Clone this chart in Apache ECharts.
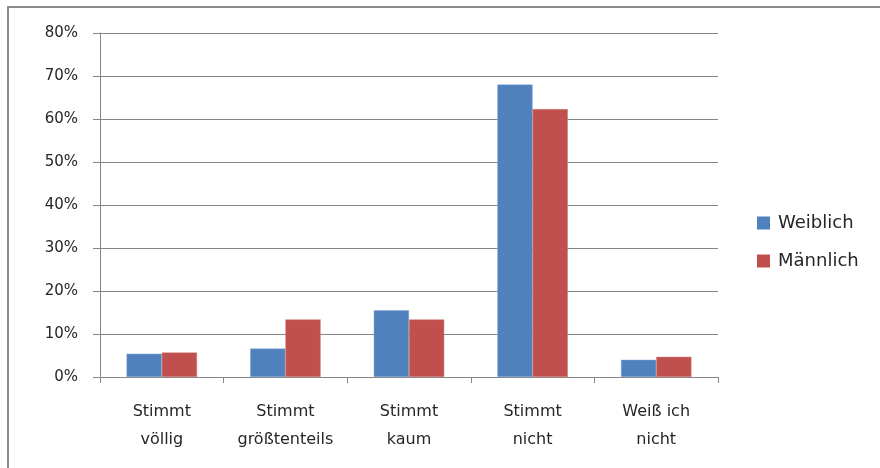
<!DOCTYPE html>
<html>
<head>
<meta charset="utf-8">
<script src="https://cdn.jsdelivr.net/npm/echarts@6/dist/echarts.min.js"></script>
<style>html,body{margin:0;padding:0;background:#fff}#c{width:880px;height:468px}</style>
</head>
<body>
<div id="c"></div>
<script>
var categories = ["Stimmt\nvöllig", "Stimmt\ngrößtenteils", "Stimmt\nkaum", "Stimmt\nnicht", "Weiß ich\nnicht"];
var weiblich = [5.4, 6.6, 15.5, 68.0, 4.0];
var maennlich = [5.7, 13.4, 13.4, 62.3, 4.7];
var seriesNames = ["Weiblich", "Männlich"];
var yTicks = [0, 10, 20, 30, 40, 50, 60, 70, 80];

var chart = echarts.init(document.getElementById('c'), null, {renderer: 'canvas'});
var font = 'DejaVu Sans';
chart.setOption({
  animation: false,
  backgroundColor: '#fff',
  graphic: [{
    type: 'rect', silent: true,
    shape: {x: 8, y: 7, width: 900, height: 500},
    style: {fill: 'none', stroke: '#8c8c8c', lineWidth: 2}
  }],
  grid: {left: 100, right: 162, top: 33, bottom: 91, containLabel: false},
  legend: {
    orient: 'vertical', left: 757, top: 214, padding: 0,
    itemWidth: 13, itemHeight: 13, itemGap: 20,
    icon: 'rect',
    itemStyle: {borderWidth: 0},
    textStyle: {fontFamily: font, fontSize: 18, color: '#262626', padding: [0, 0, 0, 3]},
    data: seriesNames
  },
  xAxis: {
    type: 'category', data: categories,
    axisLine: {lineStyle: {color: '#868686', width: 1}},
    axisTick: {show: true, length: 6, lineStyle: {color: '#868686'}},
    axisLabel: {fontFamily: font, fontSize: 16, color: '#262626', lineHeight: 28, margin: 21, interval: 0}
  },
  yAxis: {
    type: 'value', min: 0, max: 80, interval: 10,
    axisLine: {show: true, lineStyle: {color: '#868686'}},
    axisTick: {show: true, length: 7, lineStyle: {color: '#868686'}},
    splitLine: {lineStyle: {color: '#868686', width: 1}},
    axisLabel: {fontFamily: font, fontSize: 15, color: '#262626', margin: 22,
      formatter: function (v) { return yTicks.indexOf(v) >= 0 ? v + '%' : ''; }}
  },
  series: [
    {name: seriesNames[0], type: 'bar', data: weiblich, barGap: '0%', barCategoryGap: '43%',
     itemStyle: {color: '#4f81bd', borderColor: '#7ea6d6', borderWidth: 0.5}},
    {name: seriesNames[1], type: 'bar', data: maennlich, barGap: '0%', barCategoryGap: '43%',
     itemStyle: {color: '#c0504d', borderColor: '#d47e7b', borderWidth: 0.5}}
  ]
});
</script>
</body>
</html>
